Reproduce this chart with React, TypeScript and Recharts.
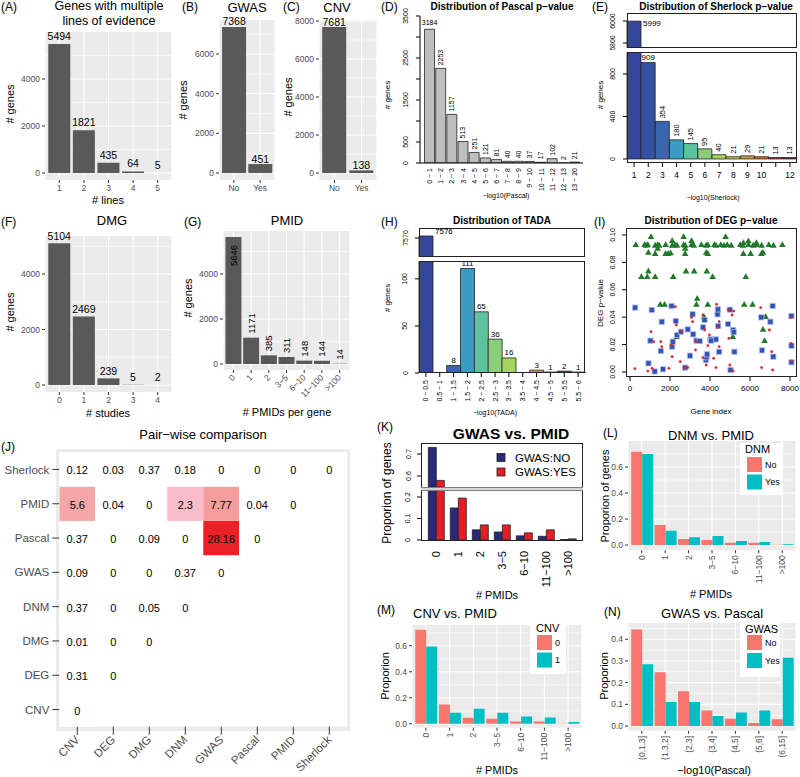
import React from "react";
import { BarChart, Bar, XAxis, YAxis, CartesianGrid, LabelList, Cell, ScatterChart, Scatter } from "recharts";

const FONT = "'Liberation Sans', Arial, Helvetica, sans-serif";
const GREY = "#4D4D4D";
const GG_BAR = "#595959";
const SALMON = "#F8766D";
const TEAL = "#00BFC4";

// (A)
const linesCats = ["1", "2", "3", "4", "5"];
const linesCounts = [5494, 1821, 435, 64, 5];
// (B) (C)
const yesNoCats = ["No", "Yes"];
const gwasCounts = [7368, 451];
const cnvCounts = [7681, 138];
// (D)
const pascalBins = ["0 ~ 1", "1 ~ 2", "2 ~ 3", "3 ~ 4", "4 ~ 5", "5 ~ 6", "6 ~ 7", "7 ~ 8", "8 ~ 9", "9 ~ 10", "10 ~ 11", "11 ~ 12", "12 ~ 13", "13 ~ 20"];
const pascalCounts = [3184, 2253, 1157, 513, 251, 121, 81, 40, 40, 37, 17, 102, 2, 21];
// (E)
const sherlockBins = ["1", "2", "3", "4", "5", "6", "7", "8", "9", "10", "11", "12"];
const sherlockCounts = [5999, 909, 354, 180, 145, 95, 40, 21, 29, 21, 13, 13];
// (F)
const studyCats = ["0", "1", "2", "3", "4"];
const dmgCounts = [5104, 2469, 239, 5, 2];
// (G)
const pmidCats = ["0", "1", "2", "3\u22125", "6\u221210", "11\u2212100", ">100"];
const pmidCounts = [5646, 1171, 385, 311, 148, 144, 14];
// (H)
const tadaBins = ["0 ~ 0.5", "0.5 ~ 1", "1 ~ 1.5", "1.5 ~ 2", "2 ~ 2.5", "2.5 ~ 3", "3 ~ 3.5", "3.5 ~ 4", "4 ~ 4.5", "4.5 ~ 5", "5 ~ 5.5", "5.5 ~ 6"];
const tadaCounts = [7576, 0, 8, 111, 65, 36, 16, 0, 3, 1, 2, 1];
const binPalette = ["#34479A", "#3650A2", "#3A66B0", "#3C9BC0", "#5DC29E", "#8ACE7C", "#A7D45C", "#C2CC4B", "#C8A040", "#DB6B2E", "#B82A20", "#7A1616"];
// (I)
const degGreen: [number, number][] = [
  [290, 0.093], [730, 0.093], [810, 0.0925], [890, 0.093], [1260, 0.0925], [1380, 0.093], [1460, 0.0925], [1780, 0.093], [2110, 0.0925], [2240, 0.093],
  [2350, 0.0925], [2680, 0.093], [2760, 0.0925], [3080, 0.093], [3190, 0.0925], [3570, 0.093], [3810, 0.0925], [3890, 0.093], [4220, 0.093], [4300, 0.0925],
  [4540, 0.093], [4700, 0.0925], [4860, 0.093], [5060, 0.0925], [5510, 0.093], [5640, 0.0925], [5920, 0.093], [6160, 0.0925], [6320, 0.093], [6580, 0.0925],
  [6940, 0.093], [7170, 0.0925], [7620, 0.093],
  [1050, 0.0988], [2680, 0.0988], [4780, 0.0988], [2110, 0.0959], [3080, 0.0959], [5920, 0.0957], [5670, 0.0944], [6320, 0.0944],
  [1380, 0.0903], [2760, 0.0903], [920, 0.0873], [1260, 0.0865], [1780, 0.0865], [1910, 0.0865], [2030, 0.0870], [2760, 0.0865], [3810, 0.0873],
  [3890, 0.0865], [5670, 0.0865], [6030, 0.0865], [6570, 0.0865], [6650, 0.0873], [920, 0.0737], [2800, 0.0737], [3210, 0.0737], [3840, 0.0737],
  [570, 0.0696], [860, 0.0696], [1260, 0.0696], [2160, 0.0696], [4130, 0.0696], [5790, 0.0696], [3360, 0.0538], [1510, 0.0494], [1730, 0.0494],
  [3320, 0.0494], [3890, 0.0494], [5710, 0.0494], [6130, 0.0494], [3700, 0.0404], [6780, 0.0404], [6650, 0.0311], [2320, 0.0258], [5140, 0.0258],
  [6730, 0.0229], [4150, 0.0234],
];
const degBlue: [number, number][] = [
  [259, 0.047], [1086, 0.0453], [1589, 0.0367], [2075, 0.0482], [2286, 0.0372], [3129, 0.0421], [3647, 0.0326], [3728, 0.038], [4377, 0.0421], [4393, 0.0457],
  [4993, 0.0455], [4896, 0.035], [5155, 0.0307], [5187, 0.029], [7132, 0.0482], [6565, 0.0399], [7019, 0.0367], [8073, 0.0409], [8073, 0.0192], [4296, 0.0238],
  [4020, 0.0238], [4409, 0.0336], [924, 0.0063], [1021, 0.0229], [1232, 0.0004], [1540, 0.0153], [1653, 0.002], [2107, 0.0185], [2140, 0.0221], [2350, 0.027],
  [2545, 0.0294], [2885, 0.0311], [2999, 0.0119], [2756, 0.0032], [3161, 0.0275], [3323, 0.0229], [3485, 0.0226], [3793, 0.0088], [3826, 0.0107], [3858, 0.0129],
  [4053, 0.0229], [4458, 0.0148], [5025, 0.0015], [5220, 0.0148], [6598, 0.0158], [7165, 0.0112], [8073, 0.0071],
];
const degRed: [number, number][] = [
  [243, 0.0024], [892, 0.0007], [1054, 0.0294], [1102, 0.0027], [1183, 0.0221], [1540, 0.0221], [1589, 0.0185], [1945, 0.0027], [2075, 0.0197], [2107, 0.0112],
  [2269, 0.0477], [2318, 0.0343], [2513, 0.0075], [2594, 0.0294], [2707, 0.0032], [2885, 0.0032], [3080, 0.0399], [3129, 0.0367], [3274, 0.0161], [3323, 0.0221],
  [3647, 0.0416], [3647, 0.0105], [3728, 0.0307], [3809, 0.0051], [3890, 0.0192], [3971, 0.027], [4182, 0.01], [4296, 0.0032], [4328, 0.0494], [4377, 0.0324],
  [4458, 0.0367], [4458, 0.0185], [4912, 0.0453], [4944, 0.0246], [4993, 0.0051], [5106, 0.0416], [5155, 0.0007], [5187, 0.0445], [6533, 0.047], [6581, 0.0032],
  [6970, 0.0307], [7084, 0.0148], [7132, 0.0015], [8024, 0.0397], [8057, 0.0209], [8073, 0.008],
];
// (J)
const pairLabels = ["CNV", "DEG", "DMG", "DNM", "GWAS", "Pascal", "PMID", "Sherlock"];
const pairCNV = [0];
const pairDEG = [0.31, 0];
const pairDMG = [0.01, 0, 0];
const pairDNM = [0.37, 0, 0.05, 0];
const pairGWAS = [0.09, 0, 0, 0.37, 0];
const pairPascal = [0.37, 0, 0.09, 0, 28.16, 0];
const pairPMID = [5.6, 0.04, 0, 2.3, 7.77, 0.04, 0];
const pairSherlock = [0.12, 0.03, 0.37, 0.18, 0, 0, 0, 0];
// (K) (L) (M)
const pmidGwasNo = [0.73, 0.149, 0.047, 0.037, 0.019, 0.017, 0.002];
const pmidGwasYes = [0.58, 0.195, 0.07, 0.07, 0.033, 0.047, 0.005];
const pmidDnmNo = [0.718, 0.154, 0.046, 0.038, 0.018, 0.018, 0.002];
const pmidDnmYes = [0.7, 0.11, 0.06, 0.07, 0.03, 0.023, 0.006];
const pmidCnv0 = [0.723, 0.149, 0.046, 0.038, 0.018, 0.018, 0.002];
const pmidCnv1 = [0.595, 0.085, 0.115, 0.085, 0.056, 0.049, 0.013];
// (N)
const pascalRanges = ["(0,1.3]", "(1.3,2]", "(2,3]", "(3,4]", "(4,5]", "(5,6]", "(6,15]"];
const pascalGwasNo = [0.445, 0.248, 0.16, 0.072, 0.034, 0.014, 0.031];
const pascalGwasYes = [0.285, 0.111, 0.111, 0.046, 0.062, 0.072, 0.315];

const lb = (p: any) => {
  const vb = p.viewBox || {};
  return {
    x: Number(p.x ?? vb.x), y: Number(p.y ?? vb.y),
    w: Number(p.width ?? vb.width), h: Number(p.height ?? vb.height), v: p.value,
  };
};

const rot90Tick = (fs: number, fill: string, fmt?: (v: any) => string) => (p: any) => {
  const { x, y, payload } = p;
  const t = fmt ? fmt(payload.value) : String(payload.value);
  return (
    <text x={x} y={y} transform={`rotate(-90 ${x} ${y})`} textAnchor="end" dominantBaseline="central" fontSize={fs} fill={fill}>{t}</text>
  );
};
const rot45Tick = (fs: number, fill: string, fmt?: (v: any) => string) => (p: any) => {
  const { x, y, payload } = p;
  const t = fmt ? fmt(payload.value) : String(payload.value);
  return (
    <text x={x} y={y} transform={`rotate(-45 ${x} ${y})`} textAnchor="end" dominantBaseline="central" fontSize={fs} fill={fill}>{t}</text>
  );
};
const baseYTick = (fs: number, fmt?: (v: number) => string, show?: (v: number) => boolean) => (p: any) => {
  const { x, y, payload } = p;
  const v = payload.value;
  if (show && !show(v)) return <g />;
  const t = fmt ? fmt(v) : String(v);
  return <text x={x} y={y} transform={`rotate(-90 ${x} ${y})`} textAnchor="middle" fontSize={fs} fill="#000">{t}</text>;
};
const plainTick = (fs: number, fill: string, show?: (v: any) => boolean, fmt?: (v: any) => string) => (p: any) => {
  const { x, y, payload } = p;
  if (show && !show(payload.value)) return <g />;
  const t = fmt ? fmt(payload.value) : String(payload.value);
  return <text x={x} y={y} textAnchor="middle" dominantBaseline="hanging" fontSize={fs} fill={fill}>{t}</text>;
};

function GG(g: any) {
  const data = g.cats.map((c: string, i: number) => {
    const r: any = { cat: c };
    g.series.forEach((s: any) => { r[s.key] = s.values[i]; });
    return r;
  });
  const unit = g.pw / (g.cats.length + 1.2);
  const pad = unit * 0.1;
  return (
    <div style={{ position: "absolute", left: g.left, top: g.top }}>
      <BarChart width={g.width} height={g.height} data={data}
        margin={{ top: g.py - g.top, right: g.left + g.width - g.px - g.pw, bottom: 0, left: 0 }}
        barCategoryGap="5%" barGap={0}>
        <CartesianGrid fill="#EBEBEB" fillOpacity={1} stroke="#FFFFFF" strokeWidth={0.55} horizontalValues={g.minor} vertical={false} />
        <CartesianGrid stroke="#FFFFFF" strokeWidth={1.1} horizontalValues={g.ticks} />
        <XAxis dataKey="cat" type="category" interval={0} padding={{ left: pad, right: pad }}
          height={g.top + g.height - g.py - g.ph} tickSize={3} tickMargin={g.xTickMargin ?? 2}
          tickLine={{ stroke: "#333" }} axisLine={false} tick={g.xTick ?? { fontSize: 8.5, fill: GREY }} />
        <YAxis type="number" domain={g.domain} ticks={g.ticks} interval={0} allowDataOverflow width={g.px - g.left}
          tickSize={3} tickMargin={2} tickLine={{ stroke: "#333" }} axisLine={false}
          tick={{ fontSize: 8.5, fill: GREY }} tickFormatter={g.fmt} />
        {g.series.map((s: any) => (
          <Bar key={s.key} dataKey={s.key} fill={s.color} isAnimationActive={false}>
            {g.label ? <LabelList dataKey={s.key} content={g.label} /> : null}
          </Bar>
        ))}
      </BarChart>
    </div>
  );
}

function BaseBars(b: any) {
  const data = b.cats.map((c: string, i: number) => {
    const r: any = { cat: c };
    b.series.forEach((s: any) => { r[s.key] = s.values[i]; });
    return r;
  });
  const bottomArea = b.top + b.height - b.py - b.ph;
  return (
    <div style={{ position: "absolute", left: b.left, top: b.top }}>
      <BarChart width={b.width} height={b.height} data={data}
        margin={{ top: b.py - b.top, right: b.left + b.width - b.px - b.pw, bottom: b.xHide ? bottomArea : 0, left: 0 }}
        barCategoryGap={b.gap} barGap={0}>
        <XAxis dataKey="cat" type="category" interval={0} hide={!!b.xHide} height={bottomArea}
          padding={{ left: b.padL ?? 0, right: b.padR ?? 0 }} tickSize={b.xTickSize ?? 0} tickMargin={b.xTickMargin ?? 0}
          tickLine={b.xTickLine ? { stroke: "#000" } : false} axisLine={b.xAxisLine ? { stroke: "#000" } : false} tick={b.xTick} />
        <YAxis type="number" domain={b.domain} ticks={b.ticks} interval={0} allowDataOverflow width={b.px - b.left}
          tickSize={b.yTickSize ?? 4} tickMargin={b.yTickMargin ?? 6} tickLine={{ stroke: "#000" }}
          axisLine={b.yAxisLine ? { stroke: "#000" } : false} tick={baseYTick(b.yFs ?? 7, b.yFmt, b.yShow)} />
        {b.series.map((s: any) => (
          <Bar key={s.key} dataKey={s.key} fill={typeof s.fill === "string" ? s.fill : "#888"} stroke="#222" strokeWidth={0.8} isAnimationActive={false}>
            {Array.isArray(s.fill) ? b.cats.map((c: string, i: number) => <Cell key={c} fill={s.fill[i]} />) : null}
            {b.label ? <LabelList dataKey={s.key} content={b.label} /> : null}
          </Bar>
        ))}
      </BarChart>
    </div>
  );
}

const ggTopLabel = (fs: number, gap: number) => (p: any) => {
  const b = lb(p);
  if (b.v == null) return null;
  return <text x={b.x + b.w / 2} y={b.y - gap} textAnchor="middle" fontSize={fs} fill="#000">{b.v}</text>;
};
const gRotLabel = (p: any) => {
  const b = lb(p);
  if (b.v == null) return null;
  const cx = b.x + b.w / 2;
  if (b.h > 100) {
    const yy = b.y + 8;
    return <text x={cx} y={yy} transform={`rotate(-90 ${cx} ${yy})`} textAnchor="end" dominantBaseline="central" fontSize={9.5} fill="#000">{b.v}</text>;
  }
  const yy = b.y - 4;
  return <text x={cx} y={yy} transform={`rotate(-90 ${cx} ${yy})`} textAnchor="start" dominantBaseline="central" fontSize={9.5} fill="#000">{b.v}</text>;
};
const dLabel = (p: any) => {
  const b = lb(p);
  if (b.v == null) return null;
  const cx = b.x + b.w / 2;
  if (b.v > 3000) return <text x={cx} y={b.y - 4} textAnchor="middle" fontSize={7} fill="#000">{b.v}</text>;
  const yy = b.y - 3;
  return <text x={cx} y={yy} transform={`rotate(-90 ${cx} ${yy})`} textAnchor="start" dominantBaseline="central" fontSize={7} fill="#000">{b.v}</text>;
};
const eUpperLabel = (p: any) => {
  const b = lb(p);
  if (b.v == null) return null;
  return <text x={b.x + b.w + 2} y={b.y + 2} dominantBaseline="central" fontSize={8} fill="#000">{b.v}</text>;
};
const eLowerLabel = (p: any) => {
  const b = lb(p);
  if (b.v == null || b.v > 1007) return null;
  const cx = b.x + b.w / 2;
  if (b.v >= 500) return <text x={cx} y={b.y - 2} textAnchor="middle" fontSize={8} fill="#000">{b.v}</text>;
  const yy = b.y - 3;
  return <text x={cx} y={yy} transform={`rotate(-90 ${cx} ${yy})`} textAnchor="start" dominantBaseline="central" fontSize={7.5} fill="#000">{b.v}</text>;
};
const hUpperLabel = (p: any) => {
  const b = lb(p);
  if (b.v == null) return null;
  return <text x={b.x + b.w + 2} y={b.y - 5} dominantBaseline="central" fontSize={8} fill="#000">{b.v}</text>;
};
const hLowerLabel = (p: any) => {
  const b = lb(p);
  if (b.v == null || b.v > 119) return null;
  return <text x={b.x + b.w / 2} y={b.y - 2.5} textAnchor="middle" fontSize={8} fill="#000">{b.v}</text>;
};

const J_PW = 288;
const J_PH = 274.4;
const tileColor = (v: number) => (v >= 20 ? "#EC2027" : v >= 7 ? "#F59D9D" : v >= 5 ? "#F4A6A7" : v >= 2 ? "#F8BCC8" : "#FFFFFF");
const pairRows = [pairCNV, pairDEG, pairDMG, pairDNM, pairGWAS, pairPascal, pairPMID, pairSherlock];
const pairCells = pairRows.flatMap((row, r) => row.map((v, c) => ({ x: c, y: r, v })));
const tileShape = (p: any) => {
  const { cx, cy, payload } = p;
  const w = J_PW / pairLabels.length;
  const h = J_PH / pairLabels.length;
  return (
    <g>
      <rect x={cx - w / 2} y={cy - h / 2} width={w} height={h} fill={tileColor(payload.v)} />
      <text x={cx} y={cy + 1} textAnchor="middle" dominantBaseline="central" fontSize={11} fill="#000">{String(payload.v)}</text>
    </g>
  );
};
const triShape = (p: any) => {
  const { cx, cy } = p;
  return <polygon points={`${cx},${cy - 3.4} ${cx - 3.3},${cy + 2.4} ${cx + 3.3},${cy + 2.4}`} fill="#1F7A2A" />;
};
const sqShape = (p: any) => {
  const { cx, cy } = p;
  return <rect x={cx - 2.6} y={cy - 2.6} width={5.2} height={5.2} fill="#3451B2" stroke="#A9B9EE" strokeWidth={0.8} />;
};
const dotShape = (p: any) => {
  const { cx, cy } = p;
  return <circle cx={cx} cy={cy} r={1.4} fill="#E3242B" />;
};

function T(props: any) {
  const { x, y, s = 11, a = "middle", r = 0, w, c = "#000", children } = props;
  return (
    <text x={x} y={y} fontSize={s} textAnchor={a} dominantBaseline="central" fontWeight={w} fill={c}
      transform={r ? `rotate(${r} ${x} ${y})` : undefined}>{children}</text>
  );
}

const boxStyle = (l: number, t: number, w: number, h: number): React.CSSProperties => ({
  position: "absolute", left: l, top: t, width: w, height: h, border: "1px solid #222", boxSizing: "border-box", pointerEvents: "none",
});

export default function App() {
  return (
    <div style={{ position: "absolute", left: 0, top: 0, width: 800, height: 777, fontFamily: FONT, background: "#fff", overflow: "hidden" }}>
      {/* A */}
      <GG left={0} top={0} width={180} height={200} px={45} pw={127} py={32} ph={148}
        cats={linesCats} series={[{ key: "n", values: linesCounts, color: GG_BAR }]}
        domain={[-298, 6000]} ticks={[0, 2000, 4000]} minor={[1000, 3000, 5000]} label={ggTopLabel(10.5, 4)} />
      {/* B */}
      <GG left={175} top={0} width={104} height={200} px={219} pw={56} py={20} ph={160}
        cats={yesNoCats} series={[{ key: "n", values: gwasCounts, color: GG_BAR }]}
        domain={[-353, 7715]} ticks={[0, 2000, 4000, 6000]} minor={[1000, 3000, 5000, 7000]} label={ggTopLabel(10.5, 1.5)} />
      {/* C */}
      <GG left={288} top={0} width={94} height={200} px={319} pw={58} py={20} ph={160}
        cats={yesNoCats} series={[{ key: "n", values: cnvCounts, color: GG_BAR }]}
        domain={[-368, 8053]} ticks={[0, 2000, 4000, 6000, 8000]} minor={[1000, 3000, 5000, 7000]} label={ggTopLabel(10.5, 1.5)} />
      {/* F */}
      <GG left={0} top={200} width={180} height={205} px={45} pw={127} py={236} ph={156}
        cats={studyCats} series={[{ key: "n", values: dmgCounts, color: GG_BAR }]}
        domain={[-252, 5369]} ticks={[0, 2000, 4000]} minor={[1000, 3000, 5000]} label={ggTopLabel(10.5, 3.5)} />
      {/* G */}
      <GG left={180} top={200} width={175} height={210} px={223} pw={127} py={231} ph={139}
        cats={pmidCats} series={[{ key: "n", values: pmidCounts, color: GG_BAR }]}
        domain={[-267, 5911]} ticks={[0, 2000, 4000]} minor={[1000, 3000, 5000]} label={gRotLabel}
        xTick={rot45Tick(8.5, GREY)} xTickMargin={3} />

      {/* D */}
      <BaseBars left={390} top={0} width={200} height={200} px={420} pw={163} py={16} ph={147}
        cats={pascalBins} series={[{ key: "n", values: pascalCounts, fill: "#BEBEBE" }]}
        domain={[0, 3500]} ticks={[0, 500, 1000, 1500, 2000, 2500, 3000, 3500]} yShow={(v: number) => [0, 500, 1500, 2500, 3500].includes(v)}
        yTickSize={4} yTickMargin={8.5} yAxisLine padL={4} padR={3} gap="5%"
        xAxisLine xTickMargin={5} xTick={rot90Tick(7, "#000")} label={dLabel} />

      {/* E */}
      <BaseBars left={595} top={0} width={205} height={50} px={627} pw={170} py={13} ph={35} xHide
        cats={sherlockBins} series={[{ key: "n", values: sherlockCounts.map((v) => (v >= 5755 ? v : null)), fill: binPalette }]}
        domain={[5755, 6073]} ticks={[5800, 6000]} yTickSize={4} yTickMargin={7.5} gap={0} label={eUpperLabel} />
      <BaseBars left={595} top={40} width={205} height={160} px={627} pw={170} py={52} ph={111}
        cats={sherlockBins} series={[{ key: "n", values: sherlockCounts, fill: binPalette }]}
        domain={[-38, 1007]} ticks={[0, 400, 800]} yTickSize={4} yTickMargin={7.5} gap={0}
        xTickLine xTickSize={4} xTickMargin={5} xTick={plainTick(8.5, "#000", (v: any) => v !== "11")} label={eLowerLabel} />
      <div style={boxStyle(627, 13, 170, 35)} />
      <div style={boxStyle(627, 52, 170, 111)} />

      {/* H */}
      <BaseBars left={387} top={220} width={200} height={40} px={419} pw={166} py={228} ph={29} xHide
        cats={tadaBins} series={[{ key: "n", values: tadaCounts.map((v) => (v >= 7513 ? v : null)), fill: binPalette }]}
        domain={[7513, 7600]} ticks={[7570]} yTickSize={4} yTickMargin={7.5} gap={0} label={hUpperLabel} />
      <BaseBars left={387} top={255} width={200} height={160} px={419} pw={166} py={261} ph={112}
        cats={tadaBins} series={[{ key: "n", values: tadaCounts, fill: binPalette }]}
        domain={[0, 119]} ticks={[0, 50, 100]} yTickSize={4} yTickMargin={7.5} gap={0}
        xTickLine xTickSize={4} xTickMargin={3} xTick={rot90Tick(7, "#000")} label={hLowerLabel} />
      <div style={boxStyle(419, 228, 166, 29)} />
      <div style={boxStyle(419, 261, 166, 112)} />

      {/* I */}
      <div style={{ position: "absolute", left: 595, top: 220 }}>
        <ScatterChart width={205} height={200} margin={{ top: 8, right: 3, bottom: 0, left: 0 }}>
          <XAxis type="number" dataKey="x" domain={[-200, 8350]} ticks={[0, 2000, 4000, 6000, 8000]} interval={0} allowDataOverflow
            height={43} tickSize={4} tickMargin={4} tickLine={{ stroke: "#000" }} axisLine={false} tick={{ fontSize: 8, fill: "#000" }} />
          <YAxis type="number" dataKey="y" domain={[-0.00365, 0.1051]} ticks={[0, 0.02, 0.04, 0.06, 0.08, 0.1]} interval={0} allowDataOverflow
            width={31} tickSize={4} tickMargin={6.5} tickLine={{ stroke: "#000" }} axisLine={false} tick={baseYTick(7, (v: number) => v.toFixed(2))} />
          <Scatter data={degGreen.map(([x, y]) => ({ x, y }))} shape={triShape} isAnimationActive={false} />
          <Scatter data={degBlue.map(([x, y]) => ({ x, y }))} shape={sqShape} isAnimationActive={false} />
          <Scatter data={degRed.map(([x, y]) => ({ x, y }))} shape={dotShape} isAnimationActive={false} />
        </ScatterChart>
      </div>
      <div style={boxStyle(626, 228, 171, 149)} />

      {/* J */}
      <div style={{ position: "absolute", left: 56, top: 449, width: 294, height: 282, background: "#EBEBEB" }} />
      <div style={{ position: "absolute", left: 0, top: 440 }}>
        <ScatterChart width={355} height={337} margin={{ top: 12.3, right: 7.7, bottom: 0, left: 0 }}>
          <CartesianGrid fill="#FFFFFF" fillOpacity={1} horizontal={false} vertical={false} />
          <XAxis type="number" dataKey="x" domain={[-0.5, 7.5]} ticks={[0, 1, 2, 3, 4, 5, 6, 7]} interval={0} allowDataOverflow
            height={50.3} tickSize={8} tickMargin={3} tickLine={{ stroke: "#333" }} axisLine={false}
            tick={rot45Tick(11.5, GREY, (v: number) => pairLabels[v])} />
          <YAxis type="number" dataKey="y" domain={[-0.5, 7.5]} ticks={[0, 1, 2, 3, 4, 5, 6, 7]} interval={0} allowDataOverflow
            width={59.3} tickSize={7} tickMargin={3} tickLine={{ stroke: "#333" }} axisLine={false}
            tick={{ fontSize: 11.5, fill: GREY }} tickFormatter={(v: number) => pairLabels[v]} />
          <Scatter data={pairCells} shape={tileShape} isAnimationActive={false} />
        </ScatterChart>
      </div>

      {/* K */}
      <BaseBars left={390} top={435} width={200} height={55} px={421} pw={162} py={443} ph={44} xHide
        cats={pmidCats}
        series={[
          { key: "no", values: pmidGwasNo.map((v) => (v >= 0.55 ? v : null)), fill: "#262A77" },
          { key: "yes", values: pmidGwasYes.map((v) => (v >= 0.55 ? v : null)), fill: "#E41E26" },
        ]}
        domain={[0.55, 0.75]} ticks={[0.6, 0.7]} yTickSize={4} yTickMargin={6.5} padL={4} padR={4} gap="15%" />
      <BaseBars left={390} top={488} width={200} height={112} px={421} pw={162} py={491} ph={50}
        cats={pmidCats}
        series={[
          { key: "no", values: pmidGwasNo, fill: "#262A77" },
          { key: "yes", values: pmidGwasYes, fill: "#E41E26" },
        ]}
        domain={[-0.005, 0.228]} ticks={[0, 0.1, 0.2]} yTickSize={4} yTickMargin={6.5} padL={4} padR={4} gap="15%"
        xTickMargin={10} xTick={rot90Tick(11, "#000")} />
      <div style={boxStyle(421, 443, 162, 98)} />
      <div style={{ position: "absolute", left: 421, top: 487, width: 162, height: 4, background: "#D4D4D4", borderTop: "1px solid #7F7F7F", borderBottom: "1px solid #7F7F7F", boxSizing: "border-box" }} />

      {/* L */}
      <GG left={600} top={435} width={200} height={160} px={628} pw={168} py={441} ph={109.2}
        cats={pmidCats} series={[{ key: "no", values: pmidDnmNo, color: SALMON }, { key: "yes", values: pmidDnmYes, color: TEAL }]}
        domain={[-0.04, 0.8]} ticks={[0, 0.2, 0.4, 0.6]} minor={[0.1, 0.3, 0.5, 0.7]} fmt={(v: number) => v.toFixed(1)}
        xTick={rot90Tick(8.5, GREY)} />
      {/* M */}
      <GG left={380} top={615} width={210} height={162} px={412} pw={170} py={625} ph={102.7}
        cats={pmidCats} series={[{ key: "c0", values: pmidCnv0, color: SALMON }, { key: "c1", values: pmidCnv1, color: TEAL }]}
        domain={[-0.03, 0.76]} ticks={[0, 0.2, 0.4, 0.6]} minor={[0.1, 0.3, 0.5, 0.7]} fmt={(v: number) => v.toFixed(1)}
        xTick={rot90Tick(8.5, GREY)} />
      {/* N */}
      <GG left={600} top={615} width={200} height={162} px={628} pw={168} py={623} ph={107.8}
        cats={pascalRanges} series={[{ key: "no", values: pascalGwasNo, color: SALMON }, { key: "yes", values: pascalGwasYes, color: TEAL }]}
        domain={[-0.022, 0.475]} ticks={[0, 0.1, 0.2, 0.3, 0.4]} minor={[0.05, 0.15, 0.25, 0.35, 0.45]} fmt={(v: number) => v.toFixed(1)}
        xTick={rot90Tick(8.5, GREY)} />

      {/* overlay text */}
      <svg width={800} height={777} style={{ position: "absolute", left: 0, top: 0, pointerEvents: "none", fontFamily: FONT }}>
        <T x={1} y={7} s={12} a="start">(A)</T>
        <T x={182} y={7} s={12} a="start">(B)</T>
        <T x={283} y={7} s={12} a="start">(C)</T>
        <T x={381} y={7} s={12} a="start">(D)</T>
        <T x={592} y={7} s={12} a="start">(E)</T>
        <T x={1} y={222} s={12} a="start">(F)</T>
        <T x={184} y={222} s={12} a="start">(G)</T>
        <T x={381} y={222} s={12} a="start">(H)</T>
        <T x={594} y={222} s={12} a="start">(I)</T>
        <T x={1} y={447} s={12} a="start">(J)</T>
        <T x={377} y={427} s={12} a="start">(K)</T>
        <T x={603} y={433} s={12} a="start">(L)</T>
        <T x={377} y={610} s={12} a="start">(M)</T>
        <T x={604} y={612} s={12} a="start">(N)</T>

        <T x={109} y={6} s={12.5}>Genes with multiple</T>
        <T x={109} y={20.5} s={12.5}>lines of evidence</T>
        <T x={247} y={7} s={13}>GWAS</T>
        <T x={337} y={7} s={13}>CNV</T>
        <T x={502} y={6} s={10} w="bold">Distribution of Pascal p−value</T>
        <T x={716} y={6} s={10} w="bold">Distribution of Sherlock p−value</T>
        <T x={112} y={220} s={13}>DMG</T>
        <T x={287} y={220} s={13}>PMID</T>
        <T x={502} y={220} s={10} w="bold">Distribution of TADA</T>
        <T x={711} y={220} s={10} w="bold">Distribution of DEG p−value</T>
        <T x={203} y={434} s={13}>Pair−wise comparison</T>
        <T x={511} y={433} s={15.5} w="bold">GWAS vs. PMID</T>
        <T x={711} y={435} s={13}>DNM vs. PMID</T>
        <T x={413} y={613} s={13} a="start">CNV vs. PMID</T>
        <T x={712} y={613} s={13}>GWAS vs. Pascal</T>

        <T x={108} y={200} s={11}># lines</T>
        <T x={10} y={104} s={11} r={-90}># genes</T>
        <T x={183} y={100} s={11} r={-90}># genes</T>
        <T x={288} y={97} s={11} r={-90}># genes</T>
        <T x={387} y={95} s={8} r={-90}># genes</T>
        <T x={506} y={195} s={7}>−log10(Pascal)</T>
        <T x={600} y={95} s={8} r={-90}># genes</T>
        <T x={713} y={197} s={7}>−log10(Sherlock)</T>
        <T x={10} y={312} s={11} r={-90}># genes</T>
        <T x={108} y={413} s={11}># studies</T>
        <T x={188} y={298} s={11} r={-90}># genes</T>
        <T x={287} y={412} s={11}># PMIDs per gene</T>
        <T x={387} y={298} s={8} r={-90}># genes</T>
        <T x={495} y={412} s={7}>−log10(TADA)</T>
        <T x={600} y={303} s={8} r={-90}>DEG p−value</T>
        <T x={711} y={411} s={8}>Gene index</T>
        <T x={387} y={493} s={12} r={-90}>Proporion of genes</T>
        <T x={497} y={595} s={11}># PMIDs</T>
        <T x={605} y={496} s={11} r={-90}>Proporion of genes</T>
        <T x={711} y={594} s={11}># PMIDs</T>
        <T x={385} y={676} s={11} r={-90}>Proporion</T>
        <T x={497} y={770} s={11}># PMIDs</T>
        <T x={604} y={676} s={11} r={-90}>Proporion</T>
        <T x={714} y={770} s={11}>−log10(Pascal)</T>

        {/* K legend */}
        <rect x={497} y={453.5} width={8} height={8} fill="#262A77" stroke="#222" strokeWidth={0.8} />
        <rect x={497} y={468} width={8} height={8} fill="#E41E26" stroke="#222" strokeWidth={0.8} />
        <T x={515} y={457.5} s={11.5} a="start">GWAS:NO</T>
        <T x={515} y={472} s={11.5} a="start">GWAS:YES</T>

        {/* L legend */}
        <rect x={740} y={443} width={43} height={52} fill="#FFFFFF" />
        <T x={745} y={449} s={11} a="start">DNM</T>
        <rect x={747} y={457} width={15} height={15} fill={SALMON} />
        <rect x={747} y={474.5} width={15} height={15} fill={TEAL} />
        <T x={765} y={464.5} s={9} a="start">No</T>
        <T x={765} y={482} s={9} a="start">Yes</T>

        {/* M legend */}
        <rect x={530} y={621} width={36} height={53} fill="#FFFFFF" />
        <T x={536} y={627.5} s={11} a="start">CNV</T>
        <rect x={537} y={635} width={15} height={15} fill={SALMON} />
        <rect x={537} y={652.5} width={15} height={15} fill={TEAL} />
        <T x={555} y={642.5} s={9} a="start">0</T>
        <T x={555} y={660} s={9} a="start">1</T>

        {/* N legend */}
        <rect x={740} y={622} width={40} height={55} fill="#FFFFFF" />
        <T x={745} y={628.5} s={11} a="start">GWAS</T>
        <rect x={747} y={635} width={15} height={15} fill={SALMON} />
        <rect x={747} y={653} width={15} height={15} fill={TEAL} />
        <T x={765} y={642.5} s={9} a="start">No</T>
        <T x={765} y={660.5} s={9} a="start">Yes</T>
      </svg>
    </div>
  );
}
